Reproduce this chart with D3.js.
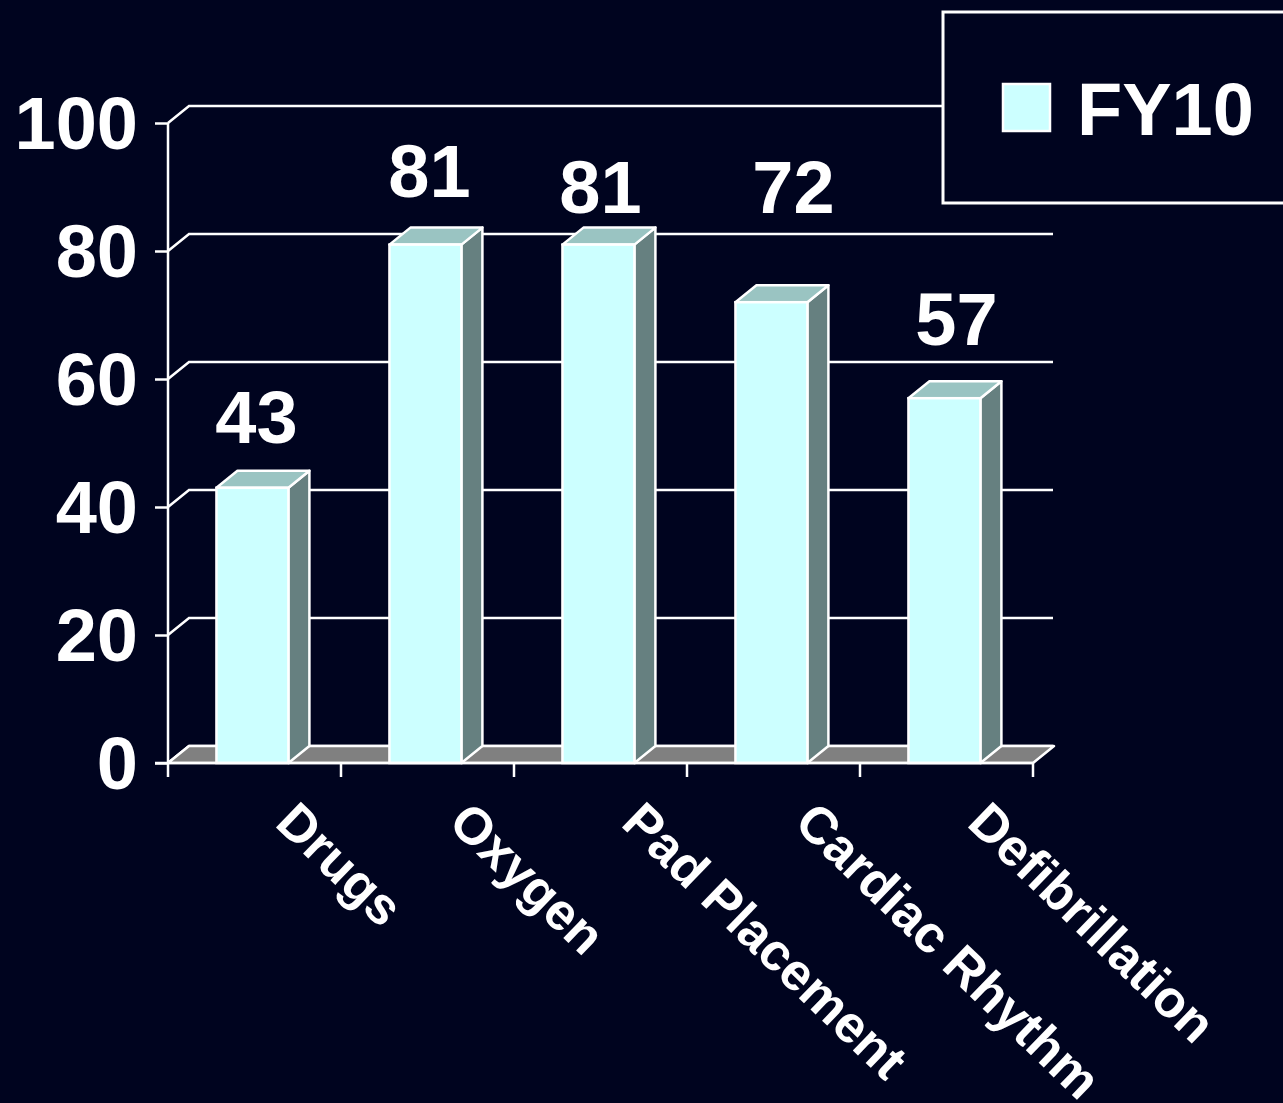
<!DOCTYPE html>
<html>
<head>
<meta charset="utf-8">
<script src="https://cdn.jsdelivr.net/npm/d3@7"></script>
<style>
  html, body { margin: 0; padding: 0; background: #00041f; }
  svg { display: block; }
  text { font-family: "Liberation Sans", Arial, sans-serif; font-weight: bold; fill: #ffffff; }
</style>
</head>
<body>
<svg id="chart" width="1283" height="1103"></svg>
<script>
// Share of records with each item documented, FY10
const categories = ["Drugs", "Oxygen", "Pad Placement", "Cardiac Rhythm", "Defibrillation"];
const fy10 = [43, 81, 81, 72, 57];
const yTicks = [0, 20, 40, 60, 80, 100];
const seriesName = "FY10";

// hand-placed value labels: lift above each bar top and sideways nudge (px)
const labelLift = [45, 48, 32, 89, 53];
const labelNudge = [0, 0, -2, 18, 8];

const W = 1283, H = 1103;
const svg = d3.select("#chart");
svg.append("rect").attr("width", W).attr("height", H).attr("fill", "#00041f");

const plotLeft = 168, plotRight = 1033, plotBottom = 763, plotTop = 123;
const dx = 21, dy = -17;           // depth offset of the 3D box
const backRight = 1053;            // right end of the back wall

const x = d3.scaleBand().domain(categories).range([plotLeft, plotRight]).padding(0);
const y = d3.scaleLinear().domain([0, 100]).range([plotBottom, plotTop]);

const FRONT = "#ccffff", SIDE = "#668080", TOP = "#9ac4c2", FLOOR = "#808080";
const line = "#ffffff";

// back-wall gridlines with their diagonal run to the front axis
const grid = svg.append("g");
yTicks.forEach(v => {
  const yy = y(v);
  grid.append("path")
    .attr("d", `M${plotLeft},${yy}L${plotLeft + dx},${yy + dy}L${backRight},${yy + dy}`)
    .attr("fill", "none").attr("stroke", line).attr("stroke-width", 2.5);
});

// floor
svg.append("path")
  .attr("d", `M${plotLeft},${plotBottom}L${plotRight},${plotBottom}L${plotRight + dx},${plotBottom + dy}L${plotLeft + dx},${plotBottom + dy}Z`)
  .attr("fill", FLOOR).attr("stroke", line).attr("stroke-width", 2.5).attr("stroke-linejoin", "round");

// bars
const bw = x.bandwidth() * 0.416;
const bars = svg.append("g").selectAll("g").data(categories).join("g");
bars.each(function (c, i) {
  const g = d3.select(this);
  const x0 = x(c) + x.bandwidth() * 0.28, x1 = x0 + bw;
  const y0 = y(fy10[i]), yb = y(0);
  g.append("path") // side
    .attr("d", `M${x1},${yb}L${x1 + dx},${yb + dy}L${x1 + dx},${y0 + dy}L${x1},${y0}Z`)
    .attr("fill", SIDE).attr("stroke", line).attr("stroke-width", 2.5).attr("stroke-linejoin", "round");
  g.append("path") // top
    .attr("d", `M${x0},${y0}L${x0 + dx},${y0 + dy}L${x1 + dx},${y0 + dy}L${x1},${y0}Z`)
    .attr("fill", TOP).attr("stroke", line).attr("stroke-width", 2.5).attr("stroke-linejoin", "round");
  g.append("rect") // front
    .attr("x", x0).attr("y", y0).attr("width", bw).attr("height", yb - y0)
    .attr("fill", FRONT).attr("stroke", line).attr("stroke-width", 2.5);
  g.append("text")
    .attr("x", x0 + bw / 2 + 4 + labelNudge[i]).attr("y", y0 - labelLift[i])
    .attr("text-anchor", "middle").attr("font-size", 74)
    .text(fy10[i]);
});

// y axis
const yAxis = svg.append("g").attr("transform", `translate(${plotLeft},0)`)
  .call(d3.axisLeft(y).tickValues(yTicks).tickSize(13).tickPadding(17).tickFormat(d3.format("d")));
yAxis.selectAll("path, line").attr("stroke", line).attr("stroke-width", 2.5);
yAxis.select(".domain").attr("d", `M0,${plotBottom}V${plotTop}`);
yAxis.selectAll("text").attr("fill", line).attr("font-size", 74)
  .attr("font-family", '"Liberation Sans", Arial, sans-serif').attr("font-weight", "bold")
  .attr("dy", "0.34em");

// x axis: front edge line with ticks at category boundaries
const edges = categories.map(c => x(c)).concat([plotRight]);
svg.append("line").attr("x1", plotLeft - 13).attr("x2", plotRight).attr("y1", plotBottom).attr("y2", plotBottom)
  .attr("stroke", line).attr("stroke-width", 2.5);
svg.append("g").selectAll("line").data(edges).join("line")
  .attr("x1", d => d).attr("x2", d => d).attr("y1", plotBottom).attr("y2", plotBottom + 14)
  .attr("stroke", line).attr("stroke-width", 2.5);

svg.append("g").selectAll("text").data(categories).join("text")
  .attr("transform", c => `translate(${x(c) + x.bandwidth() / 2 + 19},${plotBottom + 62}) rotate(44)`)
  .attr("text-anchor", "start").attr("font-size", 52)
  .text(c => c);

// legend
const lg = svg.append("g");
lg.append("rect").attr("x", 943).attr("y", 12).attr("width", 400).attr("height", 191)
  .attr("fill", "#00041f").attr("stroke", line).attr("stroke-width", 3);
lg.append("rect").attr("x", 1003).attr("y", 84).attr("width", 47).attr("height", 47)
  .attr("fill", FRONT).attr("stroke", line).attr("stroke-width", 2.5);
lg.append("text").attr("x", 1077).attr("y", 135).attr("font-size", 74).text(seriesName);
</script>
</body>
</html>
